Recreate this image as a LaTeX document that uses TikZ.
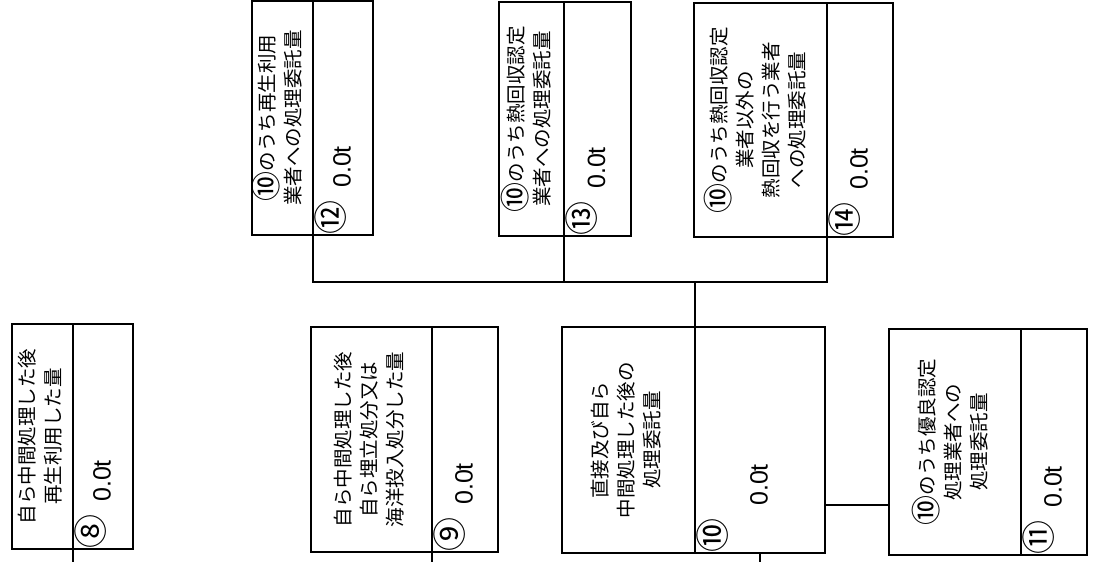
\documentclass[tikz,border=0pt]{standalone}
\usepackage{graphicx}
\usepackage{fontspec}
\setmainfont{Noto Sans CJK JP}
\newfontfamily\numfont{Liberation Sans}
\usepackage{tikz}
\usetikzlibrary{positioning}

\newcommand{\sidetext}[1]{\rotatebox{90}{\begin{tabular}{@{}c@{}}#1\end{tabular}}}
\newcommand{\bigno}[1]{\raisebox{-3pt}[0pt][0pt]{\fontsize{30}{26}\selectfont #1}}

\begin{document}
\begin{tikzpicture}[x=1pt,y=-1pt,
	cell/.style={draw,line width=1.4pt,outer sep=0pt,inner sep=0pt},
	label_cell/.style={cell,font=\fontsize{19.5}{26}\selectfont},
	value_cell/.style={cell,right=0pt of #1},
	amount/.style={inner sep=0pt,font=\numfont\fontsize{25}{28}\selectfont},
	mark_no/.style={inner sep=0pt,font=\fontsize{34}{36}\selectfont},
	link/.style={line width=1.4pt}]
	\useasboundingbox (0,0) rectangle (1097,562);
	\coordinate (bot) at (0,562);
	\coordinate (bus) at (0,282);

	% upper row
	\node[label_cell,minimum width=61pt,minimum height=234pt] (l12) at (282.5,118) {\sidetext{\bigno{⑩}のうち再生利用\\業者への処理委託量}};
	\node[value_cell=l12,minimum width=60pt,minimum height=234pt] (v12) {};
	\node[label_cell,minimum width=65pt,minimum height=234pt] (l13) at (531.5,119) {\sidetext{\bigno{⑩}のうち熱回収認定\\業者への処理委託量}};
	\node[value_cell=l13,minimum width=67pt,minimum height=234pt] (v13) {};
	\node[label_cell,minimum width=133pt,minimum height=234pt] (l14) at (760.5,120) {\sidetext{\bigno{⑩}のうち熱回収認定\\業者以外の\\熱回収を行う業者\\への処理委託量}};
	\node[value_cell=l14,minimum width=66pt,minimum height=234pt] (v14) {};

	% lower row
	\node[label_cell,minimum width=61pt,minimum height=225pt] (l8) at (42.5,436.5) {\sidetext{自ら中間処理した後\\再生利用した量}};
	\node[value_cell=l8,minimum width=60pt,minimum height=225pt] (v8) {};
	\node[label_cell,minimum width=121pt,minimum height=225pt] (l9) at (371.5,439.5) {\sidetext{自ら中間処理した後\\自ら埋立処分又は\\海洋投入処分した量}};
	\node[value_cell=l9,minimum width=66pt,minimum height=225pt] (v9) {};
	\node[label_cell,minimum width=133pt,minimum height=226pt] (l10) at (628.5,440) {\sidetext{直接及び自ら\\中間処理した後の\\処理委託量}};
	\node[value_cell=l10,minimum width=130pt,minimum height=226pt] (v10) {};
	\node[label_cell,minimum width=132pt,minimum height=226pt] (l11) at (955,442) {\sidetext{\bigno{⑩}のうち優良認定\\処理業者への\\処理委託量}};
	\node[value_cell=l11,minimum width=66pt,minimum height=226pt] (v11) {};

	% amounts and numbers
	\foreach \n/\mk in {8/⑧,9/⑨,10/⑩,11/⑪,12/⑫,13/⑬,14/⑭} {
		\node[amount,anchor=south] (t\n) at ([xshift=2pt,yshift=47pt]v\n.south) {\sidetext{0.0t}};
		\node[mark_no,anchor=south west] (n\n) at ([xshift=2pt]v\n.south west) {\sidetext{\mk}};
	}

	% connectors
	\draw[link] (l12.south east) |- (bus -| l14.south east) -- (l14.south east);
	\draw[link] (l13.south east) -- (bus -| l13.south east);
	\draw[link] (bus -| l10.north east) -- (l10.north east);
	\draw[link] ([yshift=48pt]v10.south east) -- ([yshift=48pt]v10.south east -| l11.west);
	\draw[link] (l8.south east) -- (bot -| l8.south east);
	\draw[link] (l9.south east) -- (bot -| l9.south east);
	\draw[link] (v10.south) -- (bot -| v10.south);
\end{tikzpicture}
\end{document}
